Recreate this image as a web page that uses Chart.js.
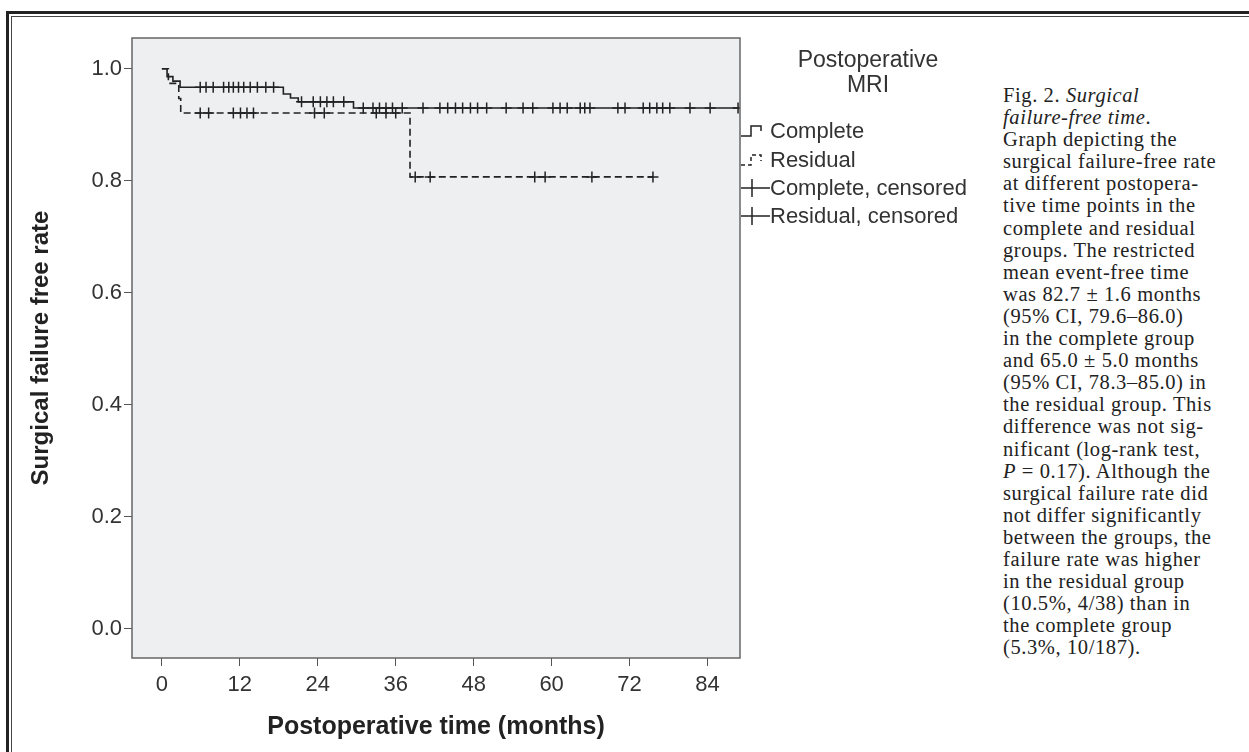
<!DOCTYPE html>
<html>
<head>
<meta charset="utf-8">
<script src="https://cdn.jsdelivr.net/npm/chart.js@4.4.0/dist/chart.umd.min.js"></script>
<style>
  html, body { margin: 0; padding: 0; background: #fff; width: 1249px; height: 752px; overflow: hidden; }
  #frameOuter { position: absolute; left: 6px; top: 11px; width: 1300px; height: 800px; border-left: 3px solid #222; border-top: 3px solid #222; }
  #frameInner { position: absolute; left: 11px; top: 16px; width: 1300px; height: 800px; border-left: 1px solid #444; border-top: 1px solid #444; }
  #wrap { position: absolute; left: 0; top: 0; width: 1000px; height: 752px; }
  #caption { position: absolute; left: 1003px; top: 84px; font-family: "Liberation Serif", serif; font-size: 20.5px; letter-spacing: 0.6px; line-height: 22.1px; color: #222; white-space: nowrap; }
</style>
</head>
<body>
<div id="frameOuter"></div>
<div id="frameInner"></div>
<div id="wrap"><canvas id="kmChart" width="1000" height="752"></canvas></div>
<div id="caption">
Fig. 2. <i>Surgical</i><br>
<i>failure-free time</i>.<br>
Graph depicting the<br>
surgical failure-free rate<br>
at different postopera-<br>
tive time points in the<br>
complete and residual<br>
groups. The restricted<br>
mean event-free time<br>
was 82.7 ± 1.6 months<br>
(95% CI, 79.6–86.0)<br>
in the complete group<br>
and 65.0 ± 5.0 months<br>
(95% CI, 78.3–85.0) in<br>
the residual group. This<br>
difference was not sig-<br>
nificant (log-rank test,<br>
<i>P</i> = 0.17). Although the<br>
surgical failure rate did<br>
not differ significantly<br>
between the groups, the<br>
failure rate was higher<br>
in the residual group<br>
(10.5%, 4/38) than in<br>
the complete group<br>
(5.3%, 10/187).
</div>
<script>
// --- data (months / survival) ---
const xTicks = [0, 12, 24, 36, 48, 60, 72, 84];
const yTicks = [0.0, 0.2, 0.4, 0.6, 0.8, 1.0];

// complete group: event steps (last point = end of follow-up)
const compTimes = [0, 0.8, 1.7, 2.8, 18.7, 19.8, 21.0, 29.5, 89];
const compSurv  = [1.0, 0.986, 0.978, 0.967, 0.955, 0.948, 0.941, 0.930, 0.930];
const compCensored = [5.9, 6.8, 7.9, 9.5, 10.3, 11.0, 11.8, 12.6, 13.6, 14.7, 16.0, 17.2,
  21.5, 23.3, 24.4, 25.4, 26.4, 28.0, 31.0, 32.5, 33.5, 34.5, 35.5, 37.0, 40.2, 42.8,
  44.0, 45.2, 46.3, 47.5, 48.6, 50.0, 53.0, 55.6, 57.1, 60.2, 61.3, 62.4, 64.4, 65.1,
  65.9, 70.2, 71.3, 74.1, 75.1, 76.2, 77.1, 78.2, 81.3, 84.4, 88.7];

// residual group
const resTimes = [0, 1.0, 2.6, 2.9, 38.2, 75.6];
const resSurv  = [1.0, 0.974, 0.947, 0.921, 0.807, 0.807];
const resCensored = [5.9, 7.2, 11.0, 12.1, 13.1, 14.1, 23.5, 25.0, 33.0, 34.5, 36.0,
  39.0, 41.3, 57.4, 59.0, 66.2, 75.6];

const legendTitle = ['Postoperative', 'MRI'];
const legendLabels = ['Complete', 'Residual', 'Complete, censored', 'Residual, censored'];

// survival value at time t from a step curve
function survAt(times, surv, t) {
  let s = surv[0];
  for (let i = 0; i < times.length; i++) {
    if (times[i] <= t) s = surv[i];
  }
  return s;
}

const toPts = (xs, ys) => xs.map((x, i) => ({ x: x, y: ys[i] }));
const censorPts = (cs, times, surv) => cs.map(t => ({ x: t, y: survAt(times, surv, t) }));

const INK = '#222';
const FONT = '"Liberation Sans", Arial, sans-serif';

// --- plugin: plot background, frame, legend ---
const plotDecor = {
  id: 'plotDecor',
  beforeDatasetsDraw(chart) {
    const { ctx, chartArea: a } = chart;
    ctx.save();
    ctx.fillStyle = '#eeeff0';
    ctx.fillRect(a.left, a.top, a.right - a.left, a.bottom - a.top);
    ctx.restore();
  },
  afterDraw(chart) {
    const { ctx, chartArea: a } = chart;
    ctx.save();
    ctx.strokeStyle = '#666';
    ctx.lineWidth = 1.5;
    ctx.strokeRect(a.left, a.top, a.right - a.left, a.bottom - a.top);

    // legend
    ctx.fillStyle = '#333';
    ctx.font = '23px ' + FONT;
    ctx.textAlign = 'center';
    ctx.textBaseline = 'middle';
    ctx.fillText(legendTitle[0], 868, 61);
    ctx.fillText(legendTitle[1], 868, 86);

    const x0 = a.right + 1;
    const rows = [131, 160, 188, 216];
    ctx.strokeStyle = INK;
    ctx.lineWidth = 1.5;

    // complete line symbol
    let y = rows[0];
    ctx.beginPath();
    ctx.moveTo(x0, y + 5); ctx.lineTo(x0 + 10, y + 5); ctx.lineTo(x0 + 10, y - 5);
    ctx.lineTo(x0 + 20, y - 5); ctx.lineTo(x0 + 20, y);
    ctx.stroke();
    // residual dashed symbol
    y = rows[1];
    ctx.setLineDash([4, 3]);
    ctx.beginPath();
    ctx.moveTo(x0, y + 5); ctx.lineTo(x0 + 10, y + 5); ctx.lineTo(x0 + 10, y - 5);
    ctx.lineTo(x0 + 20, y - 5); ctx.lineTo(x0 + 20, y + 1);
    ctx.stroke();
    ctx.setLineDash([]);
    // censored symbols
    [rows[2], rows[3]].forEach(yy => {
      ctx.beginPath();
      ctx.moveTo(x0, yy); ctx.lineTo(x0 + 29, yy);
      ctx.moveTo(x0 + 11, yy - 9); ctx.lineTo(x0 + 11, yy + 9);
      ctx.stroke();
    });

    ctx.textAlign = 'left';
    ctx.fillStyle = '#333';
    ctx.font = '22px ' + FONT;
    legendLabels.forEach((lab, i) => ctx.fillText(lab, x0 + 29, rows[i] + 1));
    ctx.restore();
  }
};

const ctx = document.getElementById('kmChart');
new Chart(ctx, {
  type: 'scatter',
  data: {
    datasets: [
      {
        label: 'Complete',
        data: toPts(compTimes, compSurv),
        showLine: true,
        stepped: true,
        borderColor: INK,
        borderWidth: 1.6,
        pointRadius: 0
      },
      {
        label: 'Residual',
        data: toPts(resTimes, resSurv),
        showLine: true,
        stepped: true,
        borderColor: INK,
        borderWidth: 1.6,
        borderDash: [7, 4],
        pointRadius: 0
      },
      {
        label: 'Complete, censored',
        data: censorPts(compCensored, compTimes, compSurv),
        pointStyle: 'cross',
        pointRadius: 5.5,
        borderColor: INK,
        borderWidth: 1.5
      },
      {
        label: 'Residual, censored',
        data: censorPts(resCensored, resTimes, resSurv),
        pointStyle: 'cross',
        pointRadius: 5.5,
        borderColor: INK,
        borderWidth: 1.5
      }
    ]
  },
  options: {
    responsive: false,
    animation: false,
    layout: { padding: { left: 0, top: 38, right: 260, bottom: 0 } },
    plugins: {
      legend: { display: false },
      tooltip: { enabled: false }
    },
    scales: {
      x: {
        type: 'linear',
        min: -4.6,
        max: 89,
        afterBuildTicks: s => { s.ticks = xTicks.map(v => ({ value: v })); },
        afterFit: s => { s.height = 94; },
        grid: { display: true, drawOnChartArea: false, drawTicks: true, tickLength: 8, color: '#555' },
        border: { display: false },
        ticks: { color: '#333', font: { family: FONT, size: 22 }, padding: 6, maxRotation: 0 },
        title: {
          display: true,
          text: 'Postoperative time (months)',
          color: '#222',
          font: { family: FONT, size: 25, weight: 'bold' },
          padding: { top: 0, bottom: 10 }
        }
      },
      y: {
        type: 'linear',
        min: -0.052,
        max: 1.055,
        afterBuildTicks: s => { s.ticks = yTicks.map(v => ({ value: v })); },
        afterFit: s => { s.width = 132; },
        grid: { display: true, drawOnChartArea: false, drawTicks: true, tickLength: 8, color: '#555' },
        border: { display: false },
        ticks: { color: '#333', font: { family: FONT, size: 22 }, padding: 2, callback: v => v.toFixed(1) },
        title: {
          display: true,
          text: 'Surgical failure free rate',
          color: '#222',
          font: { family: FONT, size: 24, weight: 'bold' },
          padding: { top: 27, bottom: 0 }
        }
      }
    }
  },
  plugins: [plotDecor]
});
</script>
</body>
</html>
